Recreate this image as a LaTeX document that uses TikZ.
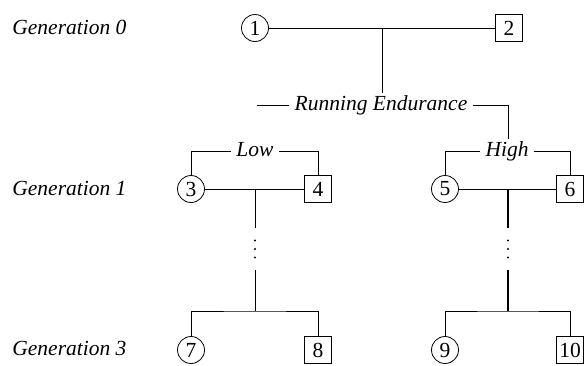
\documentclass[tikz,border=0pt]{standalone}
\usepackage{fontspec}
\setmainfont{Liberation Serif}
\begin{document}
\begin{tikzpicture}[x=1pt,y=-1pt,line width=0.8pt,
  pers/.style={draw, minimum size=27pt, inner sep=0pt, font=\fontsize{21.5}{22}\selectfont},
  fem/.style={pers, circle},
  mal/.style={pers, rectangle},
  lab/.style={font=\fontsize{21.5}{22}\selectfont\itshape, text height=14pt, text depth=4pt, inner xsep=5pt, inner ysep=3pt},
  gen/.style={lab, anchor=west, inner xsep=0pt},
  dotsbox/.style={minimum height=42pt, minimum width=4pt, inner sep=0pt},
  thick line/.style={line width=1.2pt}
]
\useasboundingbox (0,0) rectangle (586,365);
% generation labels
\node[gen] (g0) at (12,29) {Generation 0};
\node[gen] (g1) at (12,190) {Generation 1};
\node[gen] (g3) at (12,350) {Generation 3};
% generation 0
\node[fem] (n1) at (255,28) {1};
\node[mal] (n2) at (509,28) {2};
\coordinate (j0) at (382,28);
\node[lab] (re) at (381,105) {Running Endurance};
\coordinate (reL) at (257,105);
\coordinate (reR) at (508,105);
% generation 1
\node[lab] (low) at (255,151) {Low};
\node[lab] (high) at (507,151) {High};
\node[fem] (n3) at (191,189) {3};
\node[mal] (n4) at (318,189) {4};
\node[fem] (n5) at (445,189) {5};
\node[mal] (n6) at (570,189) {6};
\coordinate (j1) at (255,189);
\coordinate (j2) at (508,189);
\node[dotsbox] (dl) at (255,249) {};
\node[dotsbox] (dr) at (508,249) {};
\coordinate (j3) at (255,311);
\coordinate (j4) at (508,311);
% generation 3
\node[fem] (n7) at (191,350) {7};
\node[mal] (n8) at (318,350) {8};
\node[fem] (n9) at (445,350) {9};
\node[mal] (n10) at (570,350) {10};
% connectors
\draw (n1) -- (n2);
\draw (j0) -- (j0 |- re.north);
\draw (reL) -- (re.west |- reL);
\draw (re.east |- reR) -- (reR) -- (reR |- high.north);
\draw (n3.north) |- (low.west);
\draw (n4.north) |- (low.east);
\draw (n5.north) |- (high.west);
\draw (n6.north) |- (high.east);
\draw (n3) -- (n4);
\draw (n5) -- (n6);
\draw (j1) -- (dl.north);
\draw (dl.south) -- (j3);
\draw[thick line] (j2) -- (dr.north);
\draw[thick line] (dr.south) -- (j4);
\draw (n7.north) |- (j3) -| (n8.north);
\draw (n9.north) |- (j4) -| (n10.north);
\foreach \n in {dl,dr}
  \foreach \s in {-8.5,0,8.5}
    \fill ([yshift=\s pt]\n.center) circle (1.2pt);
\end{tikzpicture}
\end{document}
